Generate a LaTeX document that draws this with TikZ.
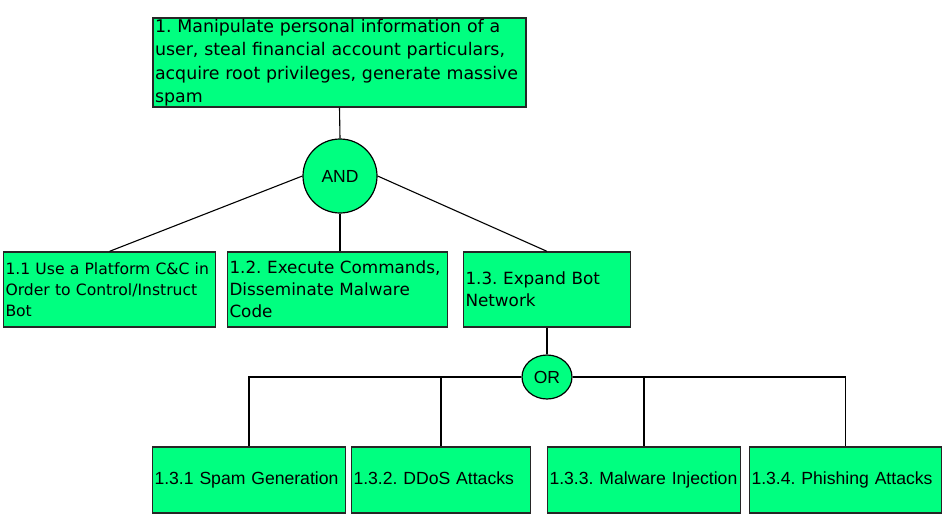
\documentclass[tikz,border=0pt]{standalone}
\usepackage{fontspec}
\setmainfont{Liberation Sans}
\newfontfamily\goalfont{DejaVu Sans}
\usetikzlibrary{shapes.geometric}
\definecolor{nodegreen}{RGB}{0,255,128}
\frenchspacing
\hyphenpenalty=10000
\tikzset{
  goal/.style={rectangle, draw=black!85, fill=nodegreen, line width=1.3pt,
    align=left, inner xsep=2pt, inner ysep=0pt, font=\goalfont},
  leaf/.style={rectangle, draw=black!85, fill=nodegreen, line width=1.3pt,
    align=left, inner xsep=2pt, inner ysep=0pt,
    font=\fontsize{17.6}{20}\selectfont, minimum height=66pt,
    execute at begin node=\strut},
  gate/.style={draw=black, fill=nodegreen, line width=1.2pt, inner sep=0pt,
    font=\fontsize{17.5}{20}\selectfont},
  link/.style={draw=black, line width=1.1pt}
}
\begin{document}
\begin{tikzpicture}[x=1pt, y=-1pt]
    \useasboundingbox (0,0) rectangle (946,517);
    % Nodes
    \node[goal, text width=369pt, minimum height=89pt,
      font=\goalfont\fontsize{17.4}{23.5}\selectfont] (G1) at (339.5,62.5)
      {1. Manipulate personal information of a\\user, steal financial account particulars,\\acquire root privileges, generate massive\\spam};
    \node[gate, circle, minimum size=74pt] (AND) at (340,176) {AND};

    \node[goal, text width=208pt, minimum height=75pt,
      font=\goalfont\fontsize{15.6}{21}\selectfont] (G11) at (109.5,289.5)
      {1.1 Use a Platform C\&C in\\Order to Control/Instruct\\Bot};
    \node[goal, text width=216pt, minimum height=75pt,
      font=\goalfont\fontsize{16.8}{22}\selectfont] (G12) at (337.5,289.5)
      {1.2. Execute Commands,\\Disseminate Malware\\Code};
    \node[goal, text width=163pt, minimum height=75pt,
      font=\goalfont\fontsize{16.8}{22}\selectfont] (G13) at (547,289.5)
      {1.3. Expand Bot\\Network};

    \node[gate, ellipse, minimum width=50pt, minimum height=44pt] (OR) at (547,377) {OR};

    \foreach \i/\x/\w/\txt in {1/249/194/{1.3.1 Spam Generation},
                               2/441/180/{1.3.2. DDoS Attacks},
                               3/644/194/{1.3.3. Malware Injection},
                               4/845.5/193/{1.3.4. Phishing Attacks}}
    \node[leaf, text width=\w pt - 5pt] (L\i) at (\x,480) {\txt};

    % Edges
    \draw[link] (G1.south) -- (AND.north);
    \draw[link] (AND.west) -- (G11.north);
    \draw[link] (AND.south) -- (AND.south |- G12.north);
    \draw[link] (AND.east) -- (G13.north);
    \draw[link] (G13.south) -- (OR.north);
    \foreach \i in {1,2}
    \draw[link] (OR.west) -| (L\i.north);
    \foreach \i in {3,4}
    \draw[link] (OR.east) -| (L\i.north);
\end{tikzpicture}
\end{document}
